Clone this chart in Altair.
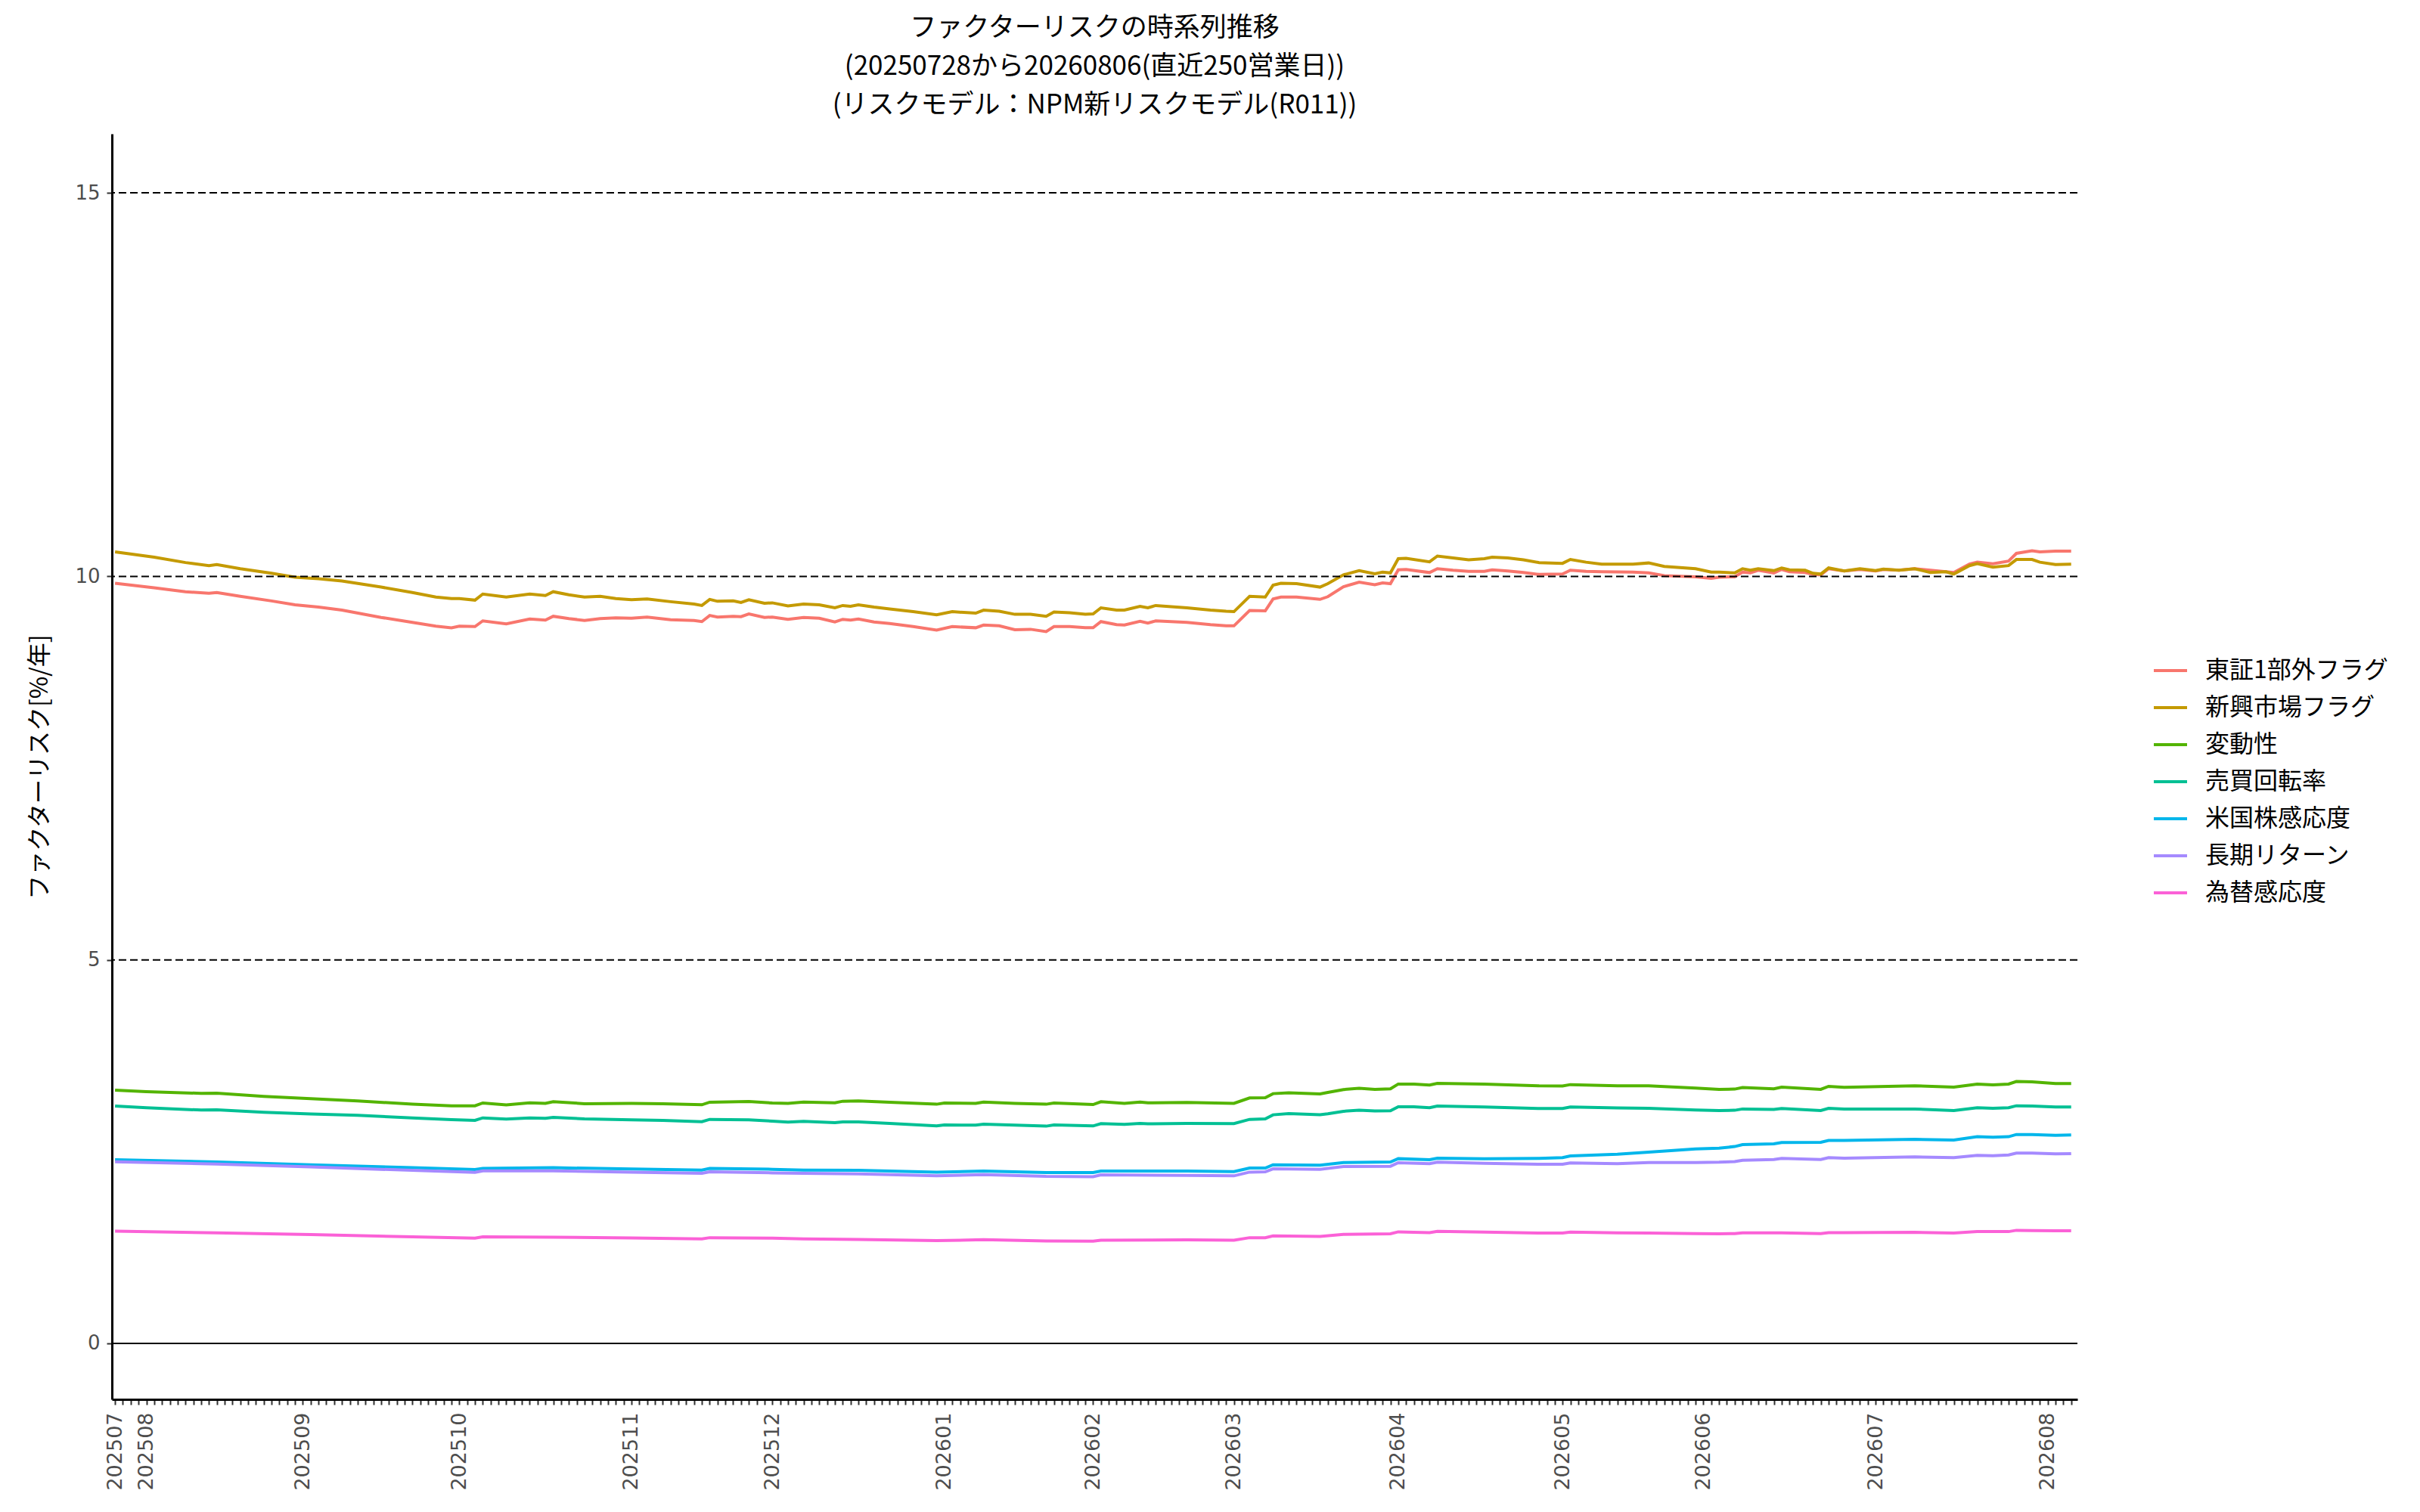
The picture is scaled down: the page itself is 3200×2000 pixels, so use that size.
import altair as alt
import pandas as pd

# series (legend order) and ggplot hue colours
series_names = ["東証1部外フラグ", "新興市場フラグ", "変動性", "売買回転率",
                "米国株感応度", "長期リターン", "為替感応度"]
series_colors = ["#F8766D", "#C49A00", "#53B400", "#00C094",
                 "#00B6EB", "#A58AFF", "#FB61D7"]

# x axis: business-day index, labelled at the first day of each month
n_days = 251
month_labels = ["202507", "202508", "202509", "202510", "202511", "202512", "202601",
                "202602", "202603", "202604", "202605", "202606", "202607", "202608"]
month_start_idx = [0, 4, 24, 44, 66, 84, 106, 125, 143, 164, 185, 203, 225, 247]

y_ticks = [0, 5, 10, 15]
dashed_levels = [5, 10, 15]
zero_level = [0]

# --- flag factors (read at these business-day indices) ---
idx_flag = [
    0, 5, 9, 12, 13, 16, 20, 23, 26, 29,
    34, 38, 41, 43, 44, 46, 47, 50, 53, 55,
    56, 58, 60, 62, 64, 66, 68, 71, 74, 75,
    76, 77, 79, 80, 81, 83, 84, 86, 88, 90,
    92, 93, 94, 95, 97, 99, 102, 105, 107, 110,
    111, 113, 115, 117, 119, 120, 122, 124, 125, 126,
    128, 129, 131, 132, 133, 137, 140, 142, 143, 145,
    147, 148, 149, 151, 154, 155, 157, 159, 161, 162,
    163, 164, 165, 168, 169, 171, 173, 175, 176, 178,
    180, 182, 185, 186, 188, 190, 194, 196, 198, 202,
    204, 205, 207, 208, 209, 210, 212, 213, 214, 216,
    217, 218, 219, 221, 223, 225, 226, 228, 230, 232,
    234, 235, 237, 238, 240, 242, 243, 245, 246, 248,
    250,
]
tosho_outside = [
    9.91, 9.85, 9.80, 9.78, 9.79, 9.74, 9.68, 9.63, 9.60, 9.56,
    9.465, 9.40, 9.35, 9.33, 9.35, 9.345, 9.42, 9.38, 9.445, 9.43,
    9.48, 9.45, 9.425, 9.45, 9.46, 9.455, 9.47, 9.435, 9.425, 9.41,
    9.49, 9.47, 9.48, 9.475, 9.51, 9.465, 9.47, 9.44, 9.465, 9.455,
    9.405, 9.44, 9.43, 9.445, 9.405, 9.385, 9.345, 9.30, 9.345, 9.33,
    9.365, 9.355, 9.305, 9.31, 9.28, 9.345, 9.345, 9.33, 9.33, 9.41,
    9.37, 9.365, 9.415, 9.39, 9.42, 9.40, 9.37, 9.355, 9.355, 9.555,
    9.55, 9.705, 9.73, 9.73, 9.70, 9.735, 9.865, 9.925, 9.89, 9.915,
    9.905, 10.085, 10.09, 10.05, 10.10, 10.08, 10.065, 10.065, 10.085, 10.07,
    10.05, 10.025, 10.03, 10.08, 10.065, 10.06, 10.055, 10.045, 10.01, 9.995,
    9.975, 9.99, 9.995, 10.055, 10.045, 10.08, 10.045, 10.09, 10.06, 10.05,
    10.025, 10.02, 10.10, 10.07, 10.09, 10.07, 10.09, 10.08, 10.10, 10.08,
    10.06, 10.05, 10.16, 10.185, 10.165, 10.20, 10.30, 10.335, 10.32, 10.33,
    10.33,
]
emerging = [
    10.32, 10.25, 10.18, 10.14, 10.155, 10.10, 10.04, 9.99, 9.97, 9.94,
    9.86, 9.79, 9.73, 9.71, 9.71, 9.69, 9.77, 9.73, 9.77, 9.75,
    9.80, 9.76, 9.73, 9.74, 9.71, 9.695, 9.705, 9.67, 9.64, 9.62,
    9.70, 9.675, 9.68, 9.66, 9.695, 9.65, 9.655, 9.615, 9.64, 9.63,
    9.59, 9.62, 9.61, 9.63, 9.60, 9.575, 9.54, 9.50, 9.54, 9.52,
    9.56, 9.545, 9.505, 9.505, 9.48, 9.535, 9.525, 9.505, 9.51, 9.59,
    9.56, 9.56, 9.61, 9.59, 9.62, 9.59, 9.56, 9.545, 9.54, 9.74,
    9.73, 9.885, 9.91, 9.905, 9.86, 9.905, 10.02, 10.075, 10.035, 10.055,
    10.045, 10.23, 10.235, 10.19, 10.265, 10.24, 10.215, 10.23, 10.25, 10.24,
    10.215, 10.18, 10.17, 10.22, 10.185, 10.16, 10.16, 10.175, 10.13, 10.10,
    10.055, 10.055, 10.045, 10.10, 10.08, 10.10, 10.075, 10.11, 10.085, 10.08,
    10.04, 10.03, 10.11, 10.07, 10.10, 10.075, 10.095, 10.08, 10.10, 10.05,
    10.06, 10.03, 10.14, 10.165, 10.12, 10.14, 10.22, 10.22, 10.185, 10.155,
    10.16,
]

# --- volatility / turnover ---
idx_style = [
    0, 4, 11, 13, 19, 25, 31, 38, 43, 46,
    47, 50, 53, 55, 56, 60, 66, 70, 75, 76,
    81, 84, 86, 88, 92, 93, 95, 99, 105, 106,
    110, 111, 115, 119, 120, 125, 126, 129, 131, 132,
    137, 143, 145, 147, 148, 150, 154, 155, 157, 159,
    161, 163, 164, 166, 168, 169, 175, 182, 185, 186,
    192, 196, 202, 205, 207, 208, 212, 213, 218, 219,
    221, 230, 235, 238, 240, 242, 243, 245, 248, 250,
]
volatility = [
    3.302, 3.282, 3.26, 3.262, 3.22, 3.19, 3.16, 3.12, 3.098, 3.098,
    3.134, 3.11, 3.137, 3.13, 3.151, 3.125, 3.128, 3.125, 3.111, 3.144,
    3.154, 3.134, 3.13, 3.147, 3.137, 3.157, 3.16, 3.144, 3.118, 3.134,
    3.128, 3.147, 3.128, 3.118, 3.134, 3.114, 3.151, 3.128, 3.147, 3.137,
    3.14, 3.13, 3.20, 3.203, 3.256, 3.266, 3.253, 3.272, 3.309, 3.325,
    3.312, 3.318, 3.381, 3.381, 3.368, 3.39, 3.381, 3.358, 3.355, 3.374,
    3.358, 3.358, 3.328, 3.312, 3.315, 3.335, 3.318, 3.341, 3.312, 3.351,
    3.338, 3.358, 3.341, 3.381, 3.371, 3.381, 3.414, 3.41, 3.387, 3.387,
]
turnover = [
    3.095, 3.072, 3.042, 3.045, 3.013, 2.99, 2.973, 2.94, 2.917, 2.907,
    2.94, 2.924, 2.94, 2.934, 2.947, 2.927, 2.914, 2.907, 2.89, 2.92,
    2.914, 2.897, 2.884, 2.894, 2.878, 2.888, 2.888, 2.868, 2.835, 2.848,
    2.845, 2.858, 2.845, 2.832, 2.848, 2.835, 2.865, 2.855, 2.868, 2.862,
    2.868, 2.865, 2.92, 2.927, 2.98, 2.996, 2.98, 2.993, 3.026, 3.039,
    3.03, 3.033, 3.085, 3.085, 3.072, 3.095, 3.082, 3.062, 3.062, 3.082,
    3.069, 3.065, 3.042, 3.036, 3.039, 3.056, 3.049, 3.062, 3.036, 3.065,
    3.056, 3.056, 3.036, 3.072, 3.065, 3.072, 3.098, 3.095, 3.082, 3.082,
]

# --- macro sensitivities ---
idx_macro = [
    0, 13, 25, 38, 46, 47, 56, 66, 75, 76,
    84, 88, 95, 105, 111, 119, 125, 126, 137, 143,
    145, 147, 148, 154, 157, 163, 164, 168, 169, 175,
    182, 185, 186, 192, 196, 202, 205, 207, 208, 212,
    213, 218, 219, 221, 230, 235, 238, 240, 242, 243,
    245, 248, 250,
]
us_equity = [
    2.395, 2.365, 2.329, 2.29, 2.266, 2.28, 2.29, 2.273, 2.26, 2.28,
    2.27, 2.26, 2.256, 2.233, 2.246, 2.227, 2.227, 2.246, 2.246, 2.24,
    2.286, 2.286, 2.329, 2.322, 2.358, 2.365, 2.408, 2.395, 2.414, 2.408,
    2.411, 2.421, 2.444, 2.467, 2.493, 2.536, 2.546, 2.566, 2.592, 2.602,
    2.618, 2.622, 2.645, 2.645, 2.661, 2.651, 2.694, 2.687, 2.694, 2.723,
    2.723, 2.713, 2.717,
]
long_return = [
    2.368, 2.338, 2.30, 2.256, 2.23, 2.25, 2.25, 2.233, 2.217, 2.236,
    2.223, 2.217, 2.21, 2.184, 2.20, 2.177, 2.174, 2.197, 2.19, 2.184,
    2.233, 2.236, 2.276, 2.27, 2.306, 2.309, 2.355, 2.342, 2.362, 2.348,
    2.335, 2.335, 2.352, 2.342, 2.358, 2.358, 2.362, 2.371, 2.388, 2.398,
    2.411, 2.398, 2.421, 2.414, 2.431, 2.421, 2.451, 2.447, 2.457, 2.48,
    2.48, 2.47, 2.474,
]
fx_sens = [
    1.464, 1.44, 1.418, 1.388, 1.371, 1.388, 1.385, 1.375, 1.362, 1.378,
    1.371, 1.362, 1.355, 1.339, 1.352, 1.336, 1.332, 1.345, 1.349, 1.345,
    1.378, 1.378, 1.401, 1.395, 1.421, 1.428, 1.454, 1.444, 1.461, 1.451,
    1.438, 1.438, 1.451, 1.441, 1.438, 1.431, 1.428, 1.431, 1.441, 1.441,
    1.441, 1.431, 1.444, 1.444, 1.448, 1.438, 1.457, 1.457, 1.457, 1.474,
    1.47, 1.467, 1.467,
]

# long table, in legend order so later series are drawn on top
pairs = [
    (idx_flag, tosho_outside), (idx_flag, emerging),
    (idx_style, volatility), (idx_style, turnover),
    (idx_macro, us_equity), (idx_macro, long_return), (idx_macro, fx_sens),
]
frames = []
for name, (idx, vals) in zip(series_names, pairs):
    assert len(idx) == len(vals), name
    frames.append(pd.DataFrame({"series": name, "idx": idx, "value": vals}))
df = pd.concat(frames, ignore_index=True)

# x labels only on month starts
label_expr = "''"
for i, lab in reversed(list(zip(month_start_idx, month_labels))):
    label_expr = f"datum.value == {i} ? '{lab}' : ({label_expr})"

jp_font = "Noto Sans CJK JP"
y_scale = alt.Scale(domain=[-0.73, 15.77], nice=False, zero=False)

lines = (
    alt.Chart(df)
    .mark_line(strokeWidth=4)
    .encode(
        x=alt.X(
            "idx:Q",
            title=None,
            scale=alt.Scale(domain=[-0.4, 250.8], nice=False, zero=False),
            axis=alt.Axis(
                values=list(range(n_days)),
                labelExpr=label_expr,
                labelAngle=270,
                labelOverlap=False,
                labelFont="DejaVu Sans",
                labelFontSize=27,
                labelColor="#4d4d4d",
                labelPadding=10,
                tickSize=7,
                tickWidth=2,
                tickColor="#333333",
                domainColor="black",
                domainWidth=3,
                grid=False,
            ),
        ),
        y=alt.Y(
            "value:Q",
            title="ファクターリスク[%/年]",
            scale=y_scale,
            axis=alt.Axis(
                values=y_ticks,
                format="d",
                labelFont="DejaVu Sans",
                labelFontSize=26,
                labelColor="#4d4d4d",
                labelPadding=9,
                tickSize=7,
                tickWidth=2,
                tickColor="#333333",
                domainColor="black",
                domainWidth=3,
                grid=False,
                titleFont=jp_font,
                titleFontSize=32,
                titleFontWeight="normal",
                titleColor="black",
                titlePadding=29,
                minExtent=50,
                maxExtent=50,
            ),
        ),
        color=alt.Color(
            "series:N",
            scale=alt.Scale(domain=series_names, range=series_colors),
            sort=series_names,
            legend=alt.Legend(
                title=None,
                orient="none",
                legendX=2698,
                legendY=686,
                padding=0,
                symbolType="stroke",
                symbolSize=1936,
                symbolStrokeWidth=4,
                labelFont=jp_font,
                labelFontSize=32,
                labelColor="black",
                labelOffset=22,
                labelLimit=500,
                rowPadding=9,
            ),
        ),
    )
)

dashed = (
    alt.Chart(pd.DataFrame({"value": dashed_levels}))
    .mark_rule(color="black", strokeWidth=2, strokeDash=[10, 5])
    .encode(y=alt.Y("value:Q", scale=y_scale))
)
zero_line = (
    alt.Chart(pd.DataFrame({"value": zero_level}))
    .mark_rule(color="black", strokeWidth=2)
    .encode(y=alt.Y("value:Q", scale=y_scale))
)

chart = (
    alt.layer(lines, dashed, zero_line)
    .properties(
        width=2599,
        height=1674,
        title=alt.TitleParams(
            text=[
                "ファクターリスクの時系列推移",
                "(20250728から20260806(直近250営業日))",
                "(リスクモデル：NPM新リスクモデル(R011))",
            ],
            font=jp_font,
            fontSize=35,
            fontWeight="normal",
            color="black",
            lineHeight=51,
            anchor="middle",
            offset=20,
        ),
        autosize=alt.AutoSizeParams(type="none"),
        padding={"left": 140, "top": 169, "right": 445, "bottom": 141},
    )
    .configure_view(strokeWidth=0)
)

chart.save("out.html", embed_options={"renderer": "svg", "actions": False})
